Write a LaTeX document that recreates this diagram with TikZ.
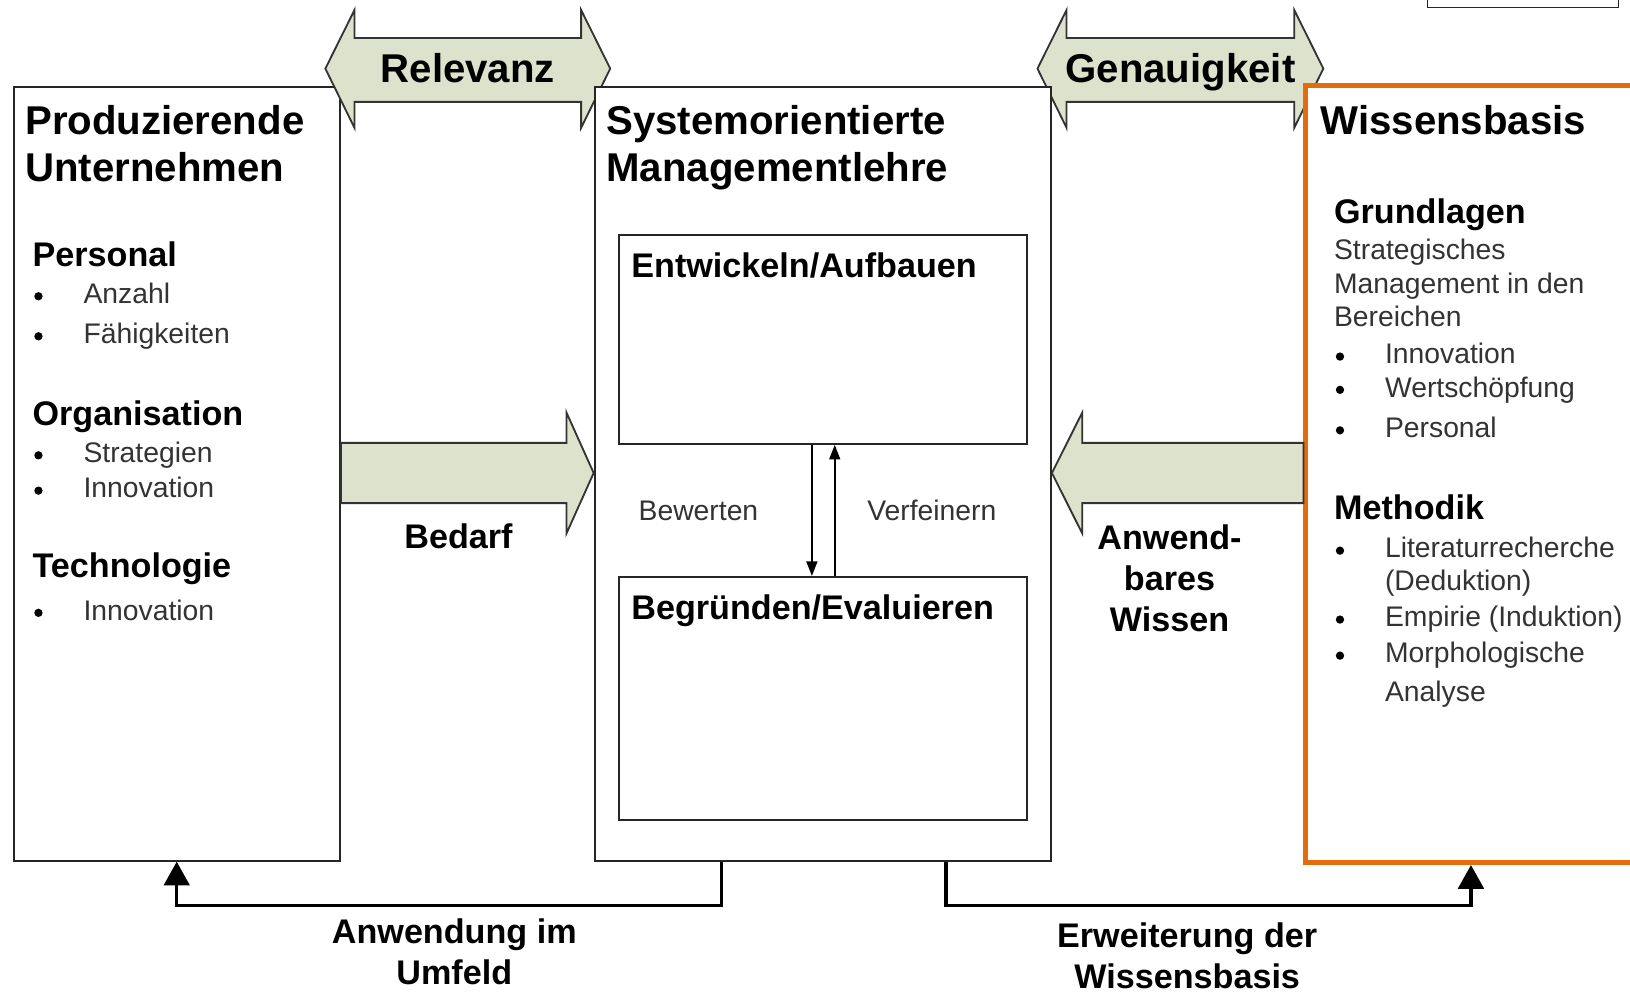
\documentclass[tikz,border=0pt]{standalone}
\usepackage{fontspec}
\setmainfont{Liberation Sans}
\usepackage{xcolor}
\usetikzlibrary{positioning,calc,arrows.meta}
\definecolor{pfeilgruen}{RGB}{221,226,204}
\definecolor{basisorange}{RGB}{228,108,10}
\tikzset{
  kasten/.style={draw=black!85, line width=1.1pt, fill=white},
  blockpfeil/.style={draw=black!80, line width=1pt, fill=pfeilgruen},
  titel/.style={anchor=base west, inner sep=0pt, font=\fontsize{22}{26}\selectfont\bfseries},
  kopf/.style={anchor=base west, inner sep=0pt, font=\fontsize{18.7}{22.5}\selectfont\bfseries},
  eintrag/.style={anchor=base west, inner sep=0pt, text=black!80, font=\fontsize{15.5}{18}\selectfont},
  pfeiltext/.style={align=center, inner sep=0pt, font=\fontsize{18.7}{22.5}\selectfont\bfseries},
  innen/.style={line width=0.9pt, -{Triangle[length=8pt,width=6pt]}},
  rueck/.style={line width=1.8pt, -{Triangle[length=13pt,width=14pt]}},
}
\begin{document}
\begin{tikzpicture}[x=0.02cm,y=-0.02cm]
\clip (0,0) rectangle (1568,956);

\node[kasten, minimum width=6.28cm, minimum height=14.88cm] (unternehmen) at (170,456) {};

% Relevanz / Genauigkeit
\foreach \l/\r/\n/\t in {313/587/relevanz/Relevanz,998/1273/genauigkeit/Genauigkeit}{
  \draw[blockpfeil] (\l,66) -- (\l+28,9.6) -- (\l+28,36.5) -- (\r-28,36.5) -- (\r-28,9.6) -- (\r,66)
    -- (\r-28,123) -- (\r-28,98) -- (\l+28,98) -- (\l+28,123) -- cycle;
  \node[titel, anchor=base] (\n) at ({(\l+\r)/2},79) {\t};
}

\node[kasten, minimum width=8.78cm, minimum height=14.88cm] (system) at (791.5,456) {};
\node[kasten, minimum width=7.85cm, minimum height=4.02cm] (entwickeln) at (791.75,326.5) {};
\node[kasten, minimum width=7.85cm, minimum height=4.68cm] (begruenden) at (791.75,672) {};
\node[kasten, draw=basisorange, line width=2.5pt, minimum width=7.68cm, minimum height=14.96cm] (basis) at (1448,456) {};
\draw[line width=0.8pt, black!85] (1373,-20) rectangle (1557,7);

% Bedarf / anwendbares Wissen
\draw[blockpfeil] (unternehmen.east |- 0,426) -- (545,426) -- (545,397) -- (system.west |- 0,455)
  -- (545,513) -- (545,484) -- (unternehmen.east |- 0,484) -- cycle;
\draw[blockpfeil] (basis.west |- 0,426) -- (1041,426) -- (1041,397) -- (system.east |- 0,455)
  -- (1041,513) -- (1041,484) -- (basis.west |- 0,484) -- cycle;
\node[kopf, anchor=base] (bedarf) at (441,528) {Bedarf};
\node[pfeiltext] (wissen) at (1125,556) {Anwend-\\bares\\Wissen};

% Titel
\node[titel] (ut1) at (24,129) {Produzierende};
\node[titel] (ut2) at (24,175) {Unternehmen};
\node[titel] (sm1) at (583,129) {Systemorientierte};
\node[titel] (sm2) at (583,175) {Managementlehre};
\node[titel] (wb) at (1270,129) {Wissensbasis};

% linker Kasten
\node[kopf] (personal) at (31,256) {Personal};
\node[kopf] (organisation) at (31,409.5) {Organisation};
\node[kopf] (technologie) at (31,556) {Technologie};
\foreach \t/\y [count=\i] in {Anzahl/292,Fähigkeiten/330.5,Strategien/445,Innovation/479,Innovation/596.5}{
  \fill (37,\y-7) circle (0.08cm);
  \node[eintrag] (le\i) at (80,\y) {\t};
}

% mittlerer Kasten
\node[kopf] (ea) at (607,267) {Entwickeln/Aufbauen};
\node[kopf] (be) at (607,596) {Begründen/Evaluieren};
\draw[innen] ([xshift=-0.215cm]entwickeln.south) -- ([xshift=-0.215cm]begruenden.north);
\draw[innen] ([xshift=0.225cm]begruenden.north) -- ([xshift=0.225cm]entwickeln.south);
\node[eintrag] (bewerten) at (614,501) {Bewerten};
\node[eintrag] (verfeinern) at (834,501) {Verfeinern};

% rechter Kasten
\node[kopf] (grundlagen) at (1283,215) {Grundlagen};
\node[kopf] (methodik) at (1283,500) {Methodik};
\foreach \t/\y [count=\i] in {Strategisches/249.5,Management in den/282.5,Bereichen/314.5}
  \node[eintrag] (rt\i) at (1283,\y) {\t};
\foreach \t/\y [count=\i] in {Innovation/350,Wertschöpfung/382,Personal/421,Literaturrecherche/536.7,Empirie (Induktion)/603,Morphologische/637.7}{
  \fill (1289,\y-7) circle (0.08cm);
  \node[eintrag] (re\i) at (1332,\y) {\t};
}
\node[eintrag] (deduktion) at (1332,568) {(Deduktion)};
\node[eintrag] (analyse) at (1332,674.7) {Analyse};

% Rueckkopplungen unten
\draw[rueck] (system.south -| 694,0) -- ++(0,42) -| (unternehmen.south -| 170,0);
\draw[rueck] (system.south -| 910,0) -- ++(0,42) -| (basis.south -| 1415,0);
\node[pfeiltext] (anwendung) at (437,916) {Anwendung im\\Umfeld};
\node[pfeiltext] (erweiterung) at (1142,919) {Erweiterung der\\Wissensbasis};
\end{tikzpicture}
\end{document}
